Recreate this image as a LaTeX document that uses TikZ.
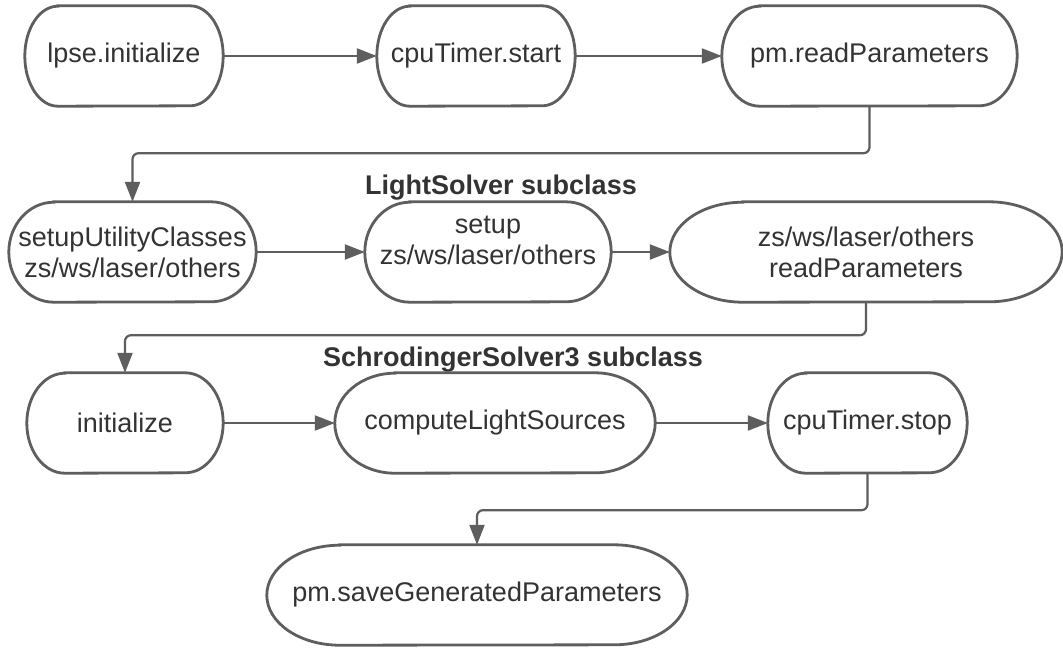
\documentclass[tikz,border=0pt]{standalone}
\usepackage{fontspec}
\setmainfont{Liberation Sans}
\usetikzlibrary{arrows.meta}
\definecolor{ln}{HTML}{5E5E5E}
\definecolor{tx}{HTML}{333333}
\tikzset{
  nd/.style={draw=none, inner sep=0pt, minimum height=100pt, text=tx,
    font=\fontsize{27}{31}\selectfont, align=center},
  txt/.style={draw=none, inner sep=0pt, text=tx,
    font=\fontsize{27}{31}\selectfont, align=center},
  outline/.style={draw=ln, line width=2.8pt},
  conn/.style={draw=ln, line width=2.2pt, -{Triangle[length=20pt,width=15pt]}, rounded corners=6pt},
  ttl/.style={text=tx, font=\fontsize{27}{31}\selectfont\bfseries, inner sep=0pt}
}
\newcommand\termout[2]{%
  \draw[outline] ([xshift=#2pt]#1.north west) -- ([xshift=-#2pt]#1.north east)
    arc[start angle=90,end angle=-90,x radius=#2pt,y radius=50pt]
    -- ([xshift=#2pt]#1.south west)
    arc[start angle=270,end angle=90,x radius=#2pt,y radius=50pt] -- cycle;}
\begin{document}
\begin{tikzpicture}[x=1pt,y=-1pt]
\fill[white] (0,0) rectangle (1063,649);
\useasboundingbox (0,0) rectangle (1063,649);
% row 1
\node[nd, minimum width=198pt] (n1) at (124,56) {lpse.initialize};
\node[nd, minimum width=198pt] (n2) at (476,56) {cpuTimer.start};
\node[nd, minimum width=295pt] (n3) at (869.5,56) {pm.readParameters};
% row 2
\node[nd, minimum width=247pt] (n4) at (132.5,252) {setupUtilityClasses\\zs/ws/laser/others};
\node[nd, minimum width=246pt] (n5) at (488,252) {};
\node[txt] (n5t) at (488,240) {setup\\zs/ws/laser/others};
\node[nd, minimum width=392pt] (n6) at (866,252) {zs/ws/laser/others\\readParameters};
\node[ttl] (t1) at (501,188) {LightSolver subclass};
% row 3
\node[nd, minimum width=196pt] (n7) at (125,423) {initialize};
\node[nd, minimum width=320pt] (n8) at (495,423) {computeLightSources};
\node[nd, minimum width=199pt] (n9) at (867.5,423) {cpuTimer.stop};
\node[ttl] (t2) at (513,360) {SchrodingerSolver3 subclass};
% row 4
\node[nd, minimum width=420pt] (n10) at (477,595) {pm.saveGeneratedParameters};
% outlines
\termout{n1}{33}
\termout{n2}{33}
\termout{n3}{38}
\termout{n4}{45}
\termout{n5}{45}
\termout{n6}{73}
\termout{n7}{38}
\termout{n8}{60}
\termout{n9}{38}
\termout{n10}{73}
% connectors
\draw[conn] (n1.east) -- (n2.west);
\draw[conn] (n2.east) -- (n3.west);
\draw[conn] (n3.south) -- ++(0,47) -| (n4.north);
\draw[conn] (n4.east) -- (n5.west);
\draw[conn] (n5.east) -- (n6.west);
\draw[conn] (n6.south) -- ++(0,33) -| (n7.north);
\draw[conn] (n7.east) -- (n8.west);
\draw[conn] (n8.east) -- (n9.west);
\draw[conn] (n9.south) -- ++(0,37) -| (n10.north);
\end{tikzpicture}
\end{document}
